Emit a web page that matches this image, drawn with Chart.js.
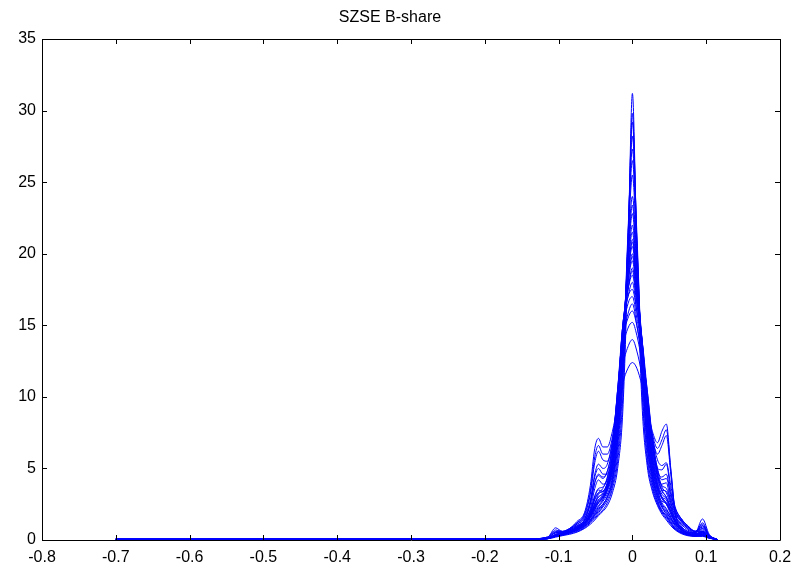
<!DOCTYPE html>
<html>
<head>
<meta charset="utf-8">
<script src="https://cdn.jsdelivr.net/npm/chart.js@4/dist/chart.umd.min.js"></script>
<style>
html,body{margin:0;padding:0;background:#fff;}
canvas{display:block;}
</style>
</head>
<body>
<canvas id="c" width="810" height="574"></canvas>
<script>
// ---- data ----
const chartTitle = 'SZSE B-share';
const xTickValues = [-0.8,-0.7,-0.6,-0.5,-0.4,-0.3,-0.2,-0.1,0,0.1,0.2];
const xTickLabels = ['-0.8','-0.7','-0.6','-0.5','-0.4','-0.3','-0.2','-0.1','0','0.1','0.2'];
const yTickValues = [0,5,10,15,20,25,30,35];
const yTickLabels = ['0','5','10','15','20','25','30','35'];

// common x grid of the density curves
const xGrid = [-0.7,-0.5,-0.3,-0.15,-0.115,-0.104,-0.095,-0.085,-0.075,-0.065,-0.057,-0.051,-0.046,-0.04,-0.034,-0.027,-0.02,-0.013,-0.006,0,0.006,0.013,0.02,0.027,0.034,0.04,0.046,0.052,0.058,0.066,0.075,0.085,0.095,0.104,0.115];

const s01 = [0.04,0.05,0.04,0.05,0.08,0.2,0.3,0.4,0.55,0.8,1.1,1.4,1.7,2.0,2.4,3.3,5.0,9.0,19.5,31.2,20,9.5,5.2,3.4,2.4,1.8,1.4,1.0,0.7,0.45,0.3,0.25,0.25,0.12,0.02];
const s02 = [0.05,0.04,0.06,0.05,0.1,0.25,0.35,0.45,0.6,0.85,1.2,1.5,1.8,2.1,2.6,3.6,5.5,10,20,29.8,20.5,10.5,5.6,3.6,2.5,1.9,1.5,1.1,0.75,0.5,0.35,0.25,0.3,0.15,0.03];
const s03 = [0.03,0.05,0.05,0.06,0.12,0.3,0.35,0.5,0.65,0.9,1.3,1.6,1.9,2.3,2.8,3.8,6,11,21,29.2,21,11,6,3.8,2.6,2.0,1.6,1.2,0.8,0.5,0.35,0.3,0.35,0.15,0.02];
const s04 = [0.05,0.05,0.05,0.04,0.1,0.3,0.4,0.5,0.7,1.0,1.4,1.8,2.2,2.5,3.0,4.0,6.5,11.5,21,28.2,21.5,12,6.5,4,2.7,2.0,1.7,1.2,0.8,0.55,0.35,0.3,0.4,0.2,0.03];
const s05 = [0.04,0.06,0.05,0.05,0.1,0.25,0.35,0.5,0.7,0.95,1.3,1.7,2.0,2.4,3.0,4.2,7,12,21.5,27.3,21,12,6.8,4.2,2.8,2.1,1.7,1.3,0.9,0.55,0.35,0.3,0.3,0.15,0.02];
const s06 = [0.05,0.05,0.06,0.05,0.1,0.3,0.4,0.55,0.75,1.05,1.5,2.0,2.4,2.8,3.4,4.6,7.5,13,20,24.0,19.5,12.5,7.5,4.5,3.0,2.3,1.8,1.4,1.0,0.6,0.4,0.3,0.35,0.15,0.03];
const s07 = [0.04,0.05,0.05,0.06,0.12,0.35,0.4,0.55,0.8,1.1,1.6,2.1,2.6,3.0,3.6,4.8,7.8,13.5,19.5,23.4,19,13,7.8,4.8,3.2,2.4,2.0,1.5,1.0,0.6,0.4,0.3,0.4,0.2,0.03];
const s08 = [0.05,0.05,0.05,0.05,0.1,0.3,0.45,0.6,0.85,1.2,1.8,2.5,3.2,3.4,3.8,5.0,8,13.5,19,22.0,18.5,13.5,8.2,5.0,3.4,2.6,2.2,1.6,1.1,0.65,0.4,0.3,0.45,0.2,0.03];
const s09 = [0.05,0.06,0.05,0.05,0.1,0.3,0.4,0.55,0.8,1.1,1.6,2.2,2.6,2.9,3.5,5.0,8.5,14,19,21.5,18,13.5,8.5,5.2,3.5,2.7,2.6,2.0,1.2,0.7,0.45,0.35,0.5,0.2,0.03];
const s10 = [0.04,0.05,0.05,0.05,0.12,0.35,0.45,0.6,0.9,1.2,1.7,2.3,2.8,3.1,3.7,5.2,8.8,14,18.5,21.0,18,14,9,5.5,3.7,2.9,2.5,1.8,1.2,0.7,0.45,0.35,0.55,0.2,0.03];
const s11 = [0.05,0.05,0.05,0.05,0.1,0.3,0.45,0.6,0.85,1.2,1.9,3.0,3.5,3.4,3.9,5.4,9,14.5,18.5,20.5,17.5,13.5,8.8,5.5,3.8,3.0,2.8,2.0,1.3,0.75,0.45,0.35,0.5,0.2,0.03];
const s12 = [0.05,0.05,0.05,0.05,0.1,0.3,0.4,0.55,0.8,1.1,1.6,2.2,2.6,2.9,3.6,5.2,8.8,14,18,20.0,17.5,14,9.5,6.2,4.4,3.9,4.0,2.6,1.7,1.2,0.8,0.45,0.6,0.25,0.03];
const s13 = [0.05,0.05,0.05,0.05,0.12,0.4,0.5,0.65,0.9,1.3,2.2,3.6,4.2,3.9,4.2,5.6,9.5,14.5,18,19.5,17,13.5,9,5.8,3.9,3.0,2.6,1.9,1.3,0.75,0.45,0.35,0.5,0.2,0.03];
const s14 = [0.05,0.05,0.05,0.05,0.1,0.3,0.4,0.55,0.8,1.1,1.7,2.4,2.8,3.1,3.8,5.6,9.5,14.5,17.5,19.0,17,14,10,6.6,4.8,4.4,4.6,3.0,2.0,1.4,0.9,0.55,0.7,0.25,0.03];
const s15 = [0.05,0.05,0.05,0.05,0.1,0.35,0.45,0.6,0.85,1.2,1.8,2.6,3.0,3.3,4.0,6.0,10,15,17.5,18.5,16.5,14,10,6.5,4.4,3.4,3.0,2.2,1.4,0.8,0.5,0.4,0.6,0.25,0.03];
const s16 = [0.05,0.06,0.05,0.05,0.15,0.5,0.5,0.7,1.0,1.4,2.6,4.4,5.0,4.6,4.6,6.0,10,15,17,18.0,16,13.5,10,6.8,5.0,4.9,5.3,3.4,2.2,1.5,1.0,0.6,0.8,0.3,0.03];
const s17 = [0.04,0.05,0.05,0.05,0.1,0.3,0.45,0.6,0.9,1.3,2.0,2.9,3.3,3.6,4.4,6.4,10.5,15,17,17.5,16,14,10.5,7,4.6,3.5,3.0,2.2,1.4,0.8,0.5,0.4,0.6,0.25,0.03];
const s18 = [0.05,0.05,0.05,0.05,0.2,0.7,0.6,0.8,1.2,1.7,3.2,5.4,6.2,5.6,5.5,6.8,10,14,15.8,16.5,15,12.5,9.5,7.2,6.0,6.6,7.3,4.6,1.8,0.9,0.5,0.5,1.0,0.3,0.03];
const s19 = [0.05,0.05,0.05,0.05,0.12,0.4,0.5,0.7,1.0,1.4,2.5,4.0,4.6,4.4,4.8,6.6,10.5,14,15.5,16.0,15,13,10.5,7.2,4.9,3.7,3.3,2.4,1.5,0.85,0.5,0.4,0.6,0.25,0.03];
const s20 = [0.05,0.05,0.05,0.05,0.2,0.85,0.6,0.8,1.2,1.8,3.4,5.8,6.6,6.0,6.0,7.2,9.6,12.2,13.5,14.0,13.2,11.5,9.2,7.4,6.4,7.0,7.7,4.9,1.9,0.9,0.55,0.5,1.2,0.35,0.03];
const s21 = [0.05,0.05,0.05,0.05,0.2,0.6,0.6,0.8,1.3,1.9,3.8,6.4,7.1,6.5,6.5,7.6,9.4,11,12.0,12.4,12.0,10.8,9.2,7.6,6.8,7.6,8.1,5.0,2.0,1.0,0.6,0.5,1.47,0.4,0.03];
const s22 = [0.05,0.05,0.05,0.05,0.1,0.3,0.4,0.55,0.75,1.0,1.4,1.9,2.3,2.7,3.2,4.4,7.2,12.5,20.5,25.5,20,12.5,7.4,4.6,3.2,2.5,2.1,1.7,1.3,0.9,0.6,0.4,0.35,0.15,0.03];
const s23 = [0.05,0.05,0.05,0.05,0.1,0.3,0.4,0.6,0.85,1.15,1.7,2.3,2.7,3.0,3.6,5.0,8.2,13.8,19.5,22.8,18.8,13.2,8.4,5.2,3.6,2.9,2.5,2.0,1.6,1.1,0.7,0.45,0.5,0.2,0.03];
const s24 = [0.05,0.05,0.05,0.05,0.1,0.3,0.45,0.6,0.85,1.2,1.8,2.5,3.0,3.2,3.8,5.3,9,14.5,18.5,20.8,17.8,13.8,9.2,5.8,4.0,3.2,2.9,2.3,1.8,1.3,0.9,0.6,0.6,0.25,0.03];
const s25 = [0.05,0.05,0.05,0.05,0.1,0.35,0.45,0.6,0.85,1.2,1.9,2.8,3.3,3.4,4.0,5.6,9.5,14.5,18,19.8,17.2,13.8,9.4,6.0,4.2,3.5,3.4,2.6,1.9,1.3,0.8,0.5,0.8,0.3,0.03];
const s26 = [0.05,0.05,0.05,0.05,0.12,0.35,0.5,0.65,0.95,1.35,2.1,3.1,3.6,3.7,4.3,6.0,10,15,17.5,18.8,16.6,13.8,10,6.7,4.6,3.8,3.6,2.8,2.0,1.4,0.9,0.6,0.9,0.3,0.03];
const s27 = [0.05,0.05,0.05,0.05,0.15,0.5,0.55,0.75,1.1,1.5,2.6,4.0,4.5,4.3,4.8,6.6,10.5,14.5,16.5,17.0,15.5,13.4,10.3,7.0,5.0,4.2,4.3,3.2,2.2,1.5,1.0,0.6,1.1,0.3,0.03];
const s28 = [0.05,0.05,0.05,0.05,0.15,0.55,0.55,0.75,1.1,1.6,2.8,4.6,5.3,5.0,5.3,7.0,10.2,13.4,14.8,15.2,14.3,12.4,9.8,7.2,5.6,5.2,5.4,3.8,2.3,1.5,1.0,0.6,1.0,0.3,0.03];
const s29 = [0.04,0.05,0.05,0.05,0.1,0.25,0.35,0.5,0.7,0.95,1.35,1.75,2.1,2.5,3.0,4.2,7,12,21,26.5,20.6,12.2,7.0,4.4,3.0,2.3,1.9,1.5,1.1,0.7,0.45,0.35,0.3,0.15,0.02];

const seriesList = [s01,s02,s03,s04,s05,s06,s07,s08,s09,s10,s11,s12,s13,s14,s15,s16,s17,s18,s19,s20,s21,s22,s23,s24,s25,s26,s27,s28,s29];

// ---- chart ----
const FONT = '"Liberation Sans", Arial, Helvetica, sans-serif';

const datasets = seriesList.map((ys, i) => ({
  label: 'curve ' + (i + 1),
  data: xGrid.map((x, j) => ({x: x, y: ys[j]})),
  borderColor: '#0000ff',
  borderWidth: 1,
  pointRadius: 0,
  fill: false,
  cubicInterpolationMode: 'monotone'
}));

const framePlugin = {
  id: 'frame',
  afterDraw(chart) {
    const {ctx, chartArea: a, scales} = chart;
    const xs = scales.x, ys = scales.y;
    const t = 5;
    ctx.save();
    ctx.strokeStyle = '#000';
    ctx.lineWidth = 1;
    ctx.beginPath();
    ctx.rect(Math.round(a.left) + 0.5, Math.round(a.top) + 0.5, Math.round(a.right - a.left), Math.round(a.bottom - a.top));
    xTickValues.forEach(v => {
      const px = Math.round(xs.getPixelForValue(v)) + 0.5;
      ctx.moveTo(px, a.bottom); ctx.lineTo(px, a.bottom - t);
      ctx.moveTo(px, a.top); ctx.lineTo(px, a.top + t);
    });
    yTickValues.forEach(v => {
      const py = Math.round(ys.getPixelForValue(v)) + 0.5;
      ctx.moveTo(a.left, py); ctx.lineTo(a.left + t, py);
      ctx.moveTo(a.right, py); ctx.lineTo(a.right - t, py);
    });
    ctx.stroke();
    ctx.restore();
  }
};

new Chart(document.getElementById('c'), {
  type: 'line',
  data: {datasets},
  options: {
    responsive: false,
    animation: false,
    devicePixelRatio: 1,
    layout: {padding: {left: 0, right: 30, top: 0, bottom: 0}},
    plugins: {
      legend: {display: false},
      tooltip: {enabled: false},
      title: {
        display: true,
        text: chartTitle,
        color: '#000',
        font: {family: FONT, size: 16, weight: 'normal', lineHeight: 1.2},
        padding: {top: 8, bottom: 11.8}
      }
    },
    scales: {
      x: {
        type: 'linear',
        min: -0.8, max: 0.2,
        grid: {display: false, drawTicks: false},
        border: {display: false},
        afterBuildTicks: s => { s.ticks = xTickValues.map(v => ({value: v})); },
        afterFit: s => { s.height = 34; },
        ticks: {
          autoSkip: false, maxRotation: 0,
          color: '#000', padding: 8,
          font: {family: FONT, size: 16},
          callback: (v, i) => xTickLabels[i]
        }
      },
      y: {
        type: 'linear',
        min: 0, max: 35,
        grid: {display: false, drawTicks: false},
        border: {display: false},
        afterBuildTicks: s => { s.ticks = yTickValues.map(v => ({value: v})); },
        afterFit: s => { s.width = 42; },
        ticks: {
          autoSkip: false,
          color: '#000', padding: 6,
          font: {family: FONT, size: 16},
          callback: (v, i) => yTickLabels[i]
        }
      }
    }
  },
  plugins: [framePlugin]
});
</script>
</body>
</html>
